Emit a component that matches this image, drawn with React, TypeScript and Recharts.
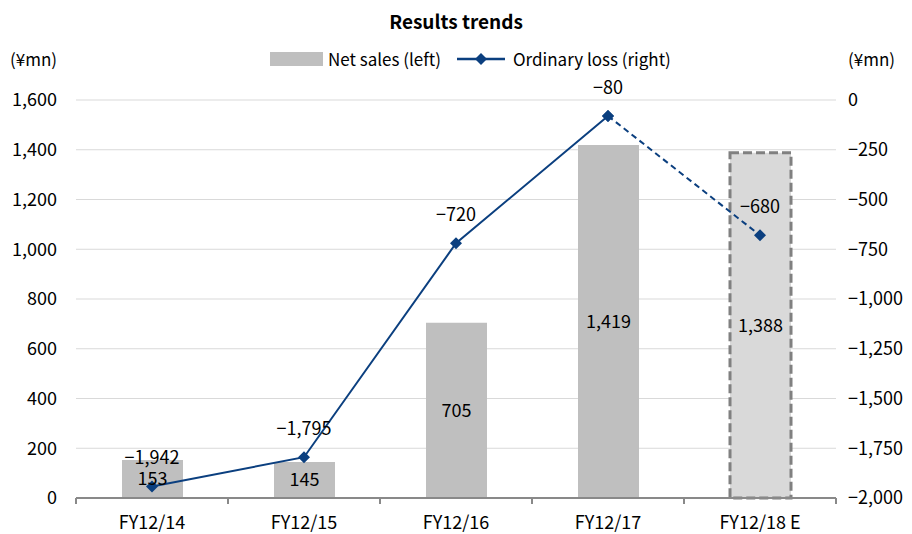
import React from 'react';
import {
  Bar,
  CartesianGrid,
  Cell,
  ComposedChart,
  LabelList,
  Line,
  XAxis,
  YAxis,
} from 'recharts';

const categories = ['FY12/14', 'FY12/15', 'FY12/16', 'FY12/17', 'FY12/18 E'];
const netSales = [153, 145, 705, 1419, 1388];
const ordinaryLoss = [-1942, -1795, -720, -80, null];
const ordinaryLossEst = [null, null, null, -80, -680];
const estLabels = [null, null, null, null, -680];
const leftTicks = [0, 200, 400, 600, 800, 1000, 1200, 1400, 1600];
const rightTicks = [-2000, -1750, -1500, -1250, -1000, -750, -500, -250, 0];

const data = categories.map((name, i) => ({
  name,
  sales: netSales[i],
  loss: ordinaryLoss[i],
  lossEst: ordinaryLossEst[i],
  estLabel: estLabels[i],
}));

const FONT = '"Noto Sans CJK JP", "Noto Sans", sans-serif';
const NAVY = '#0b3f7f';
const BAR = '#bfbfbf';
const AXIS = '#898989';

const fmt = (v: any) => {
  if (v === null || v === undefined || v === '') return '';
  const n = Number(v);
  const s = Math.abs(n).toLocaleString('en-US');
  return n < 0 ? '\u2212' + s : s;
};

const Diamond = (props: any) => {
  const { cx, cy, index } = props;
  if (cx == null || cy == null) return <g key={`d-${index}`} />;
  const r = 6;
  return (
    <polygon
      key={`d-${index}`}
      points={`${cx},${cy - r} ${cx + r},${cy} ${cx},${cy + r} ${cx - r},${cy}`}
      fill={NAVY}
    />
  );
};

// category label plus Excel-style tick marks on the category boundaries
const CatTick = (props: any) => {
  const { x, y, payload, index, visibleTicksCount } = props;
  const half = payload?.offset ?? 0;
  const axisY = y - 12 - 6;
  const isLast = index === (visibleTicksCount ?? categories.length) - 1;
  return (
    <g>
      {half > 0 && (
        <line x1={x - half} x2={x - half} y1={axisY} y2={axisY + 6} stroke={AXIS} strokeWidth={2} />
      )}
      {half > 0 && isLast && (
        <line x1={x + half} x2={x + half} y1={axisY} y2={axisY + 6} stroke={AXIS} strokeWidth={2} />
      )}
      <text
        x={x}
        y={y}
        dy="0.71em"
        textAnchor="middle"
        fill="#000"
        fontSize={18}
        fontFamily={FONT}
      >
        {payload.value}
      </text>
    </g>
  );
};

const labelStyle = { fontSize: 18, fill: '#000', fontFamily: FONT };

export default function App() {
  return (
    <div
      style={{
        position: 'absolute',
        left: 0,
        top: 0,
        width: 912,
        height: 534,
        background: '#fff',
        fontFamily: FONT,
        color: '#000',
      }}
    >
      <div
        style={{
          position: 'absolute',
          top: 7,
          width: 912,
          textAlign: 'center',
          fontSize: 19,
          fontWeight: 'bold',
        }}
      >
        Results trends
      </div>
      <div style={{ position: 'absolute', left: 10, top: 46, fontSize: 17 }}>(¥mn)</div>
      <div style={{ position: 'absolute', left: 848, top: 46, fontSize: 17 }}>(¥mn)</div>
      <div
        style={{
          position: 'absolute',
          left: 270,
          top: 46,
          fontSize: 17,
          display: 'flex',
          alignItems: 'center',
          whiteSpace: 'nowrap',
        }}
      >
        <span style={{ width: 53, height: 14, background: BAR, display: 'inline-block' }} />
        <span style={{ marginLeft: 5 }}>Net sales (left)</span>
        <svg width={52} height={20} style={{ marginLeft: 14 }}>
          <line x1={2} y1={10} x2={50} y2={10} stroke={NAVY} strokeWidth={2.5} />
          <polygon points="26,4 32,10 26,16 20,10" fill={NAVY} />
        </svg>
        <span style={{ marginLeft: 6 }}>Ordinary loss (right)</span>
      </div>
      <ComposedChart
        width={912}
        height={534}
        data={data}
        margin={{ top: 100, right: 0, bottom: 0, left: 0 }}
        style={{ position: 'absolute', left: 0, top: 0 }}
      >
        <CartesianGrid vertical={false} stroke="#d9d9d9" yAxisId="left" />
        <XAxis
          dataKey="name"
          axisLine={{ stroke: AXIS, strokeWidth: 2 }}
          tickLine={false}
          tick={<CatTick />}
          tickSize={6}
          tickMargin={12}
          height={36}
        />
        <YAxis
          yAxisId="left"
          domain={[0, 1600]}
          ticks={leftTicks}
          axisLine={false}
          tickLine={false}
          tickMargin={13}
          width={76}
          tickFormatter={fmt}
          tick={{ fontSize: 18, fill: '#000', fontFamily: FONT }}
        />
        <YAxis
          yAxisId="right"
          orientation="right"
          domain={[-2000, 0]}
          ticks={rightTicks}
          axisLine={false}
          tickLine={false}
          tickMargin={6}
          width={76}
          tickFormatter={fmt}
          tick={{ fontSize: 18, fill: '#000', fontFamily: FONT, textAnchor: 'start' }}
        />
        <Bar
          dataKey="sales"
          yAxisId="left"
          barSize={61}
          fill={BAR}
          isAnimationActive={false}
        >
          {data.map((d, i) =>
            i === data.length - 1 ? (
              <Cell
                key={`c-${i}`}
                fill="#d9d9d9"
                stroke="#808080"
                strokeWidth={3}
                strokeDasharray="9 4"
              />
            ) : (
              <Cell key={`c-${i}`} fill={BAR} />
            )
          )}
          <LabelList dataKey="sales" position="center" formatter={fmt} style={labelStyle} />
        </Bar>
        <Line
          dataKey="lossEst"
          yAxisId="right"
          stroke={NAVY}
          strokeWidth={2}
          strokeDasharray="6 4"
          dot={Diamond}
          activeDot={false}
          isAnimationActive={false}
        >
          <LabelList dataKey="estLabel" position="top" offset={22} formatter={fmt} style={labelStyle} />
        </Line>
        <Line
          dataKey="loss"
          yAxisId="right"
          stroke={NAVY}
          strokeWidth={2}
          dot={Diamond}
          activeDot={false}
          isAnimationActive={false}
        >
          <LabelList dataKey="loss" position="top" offset={22} formatter={fmt} style={labelStyle} />
        </Line>
      </ComposedChart>
    </div>
  );
}
